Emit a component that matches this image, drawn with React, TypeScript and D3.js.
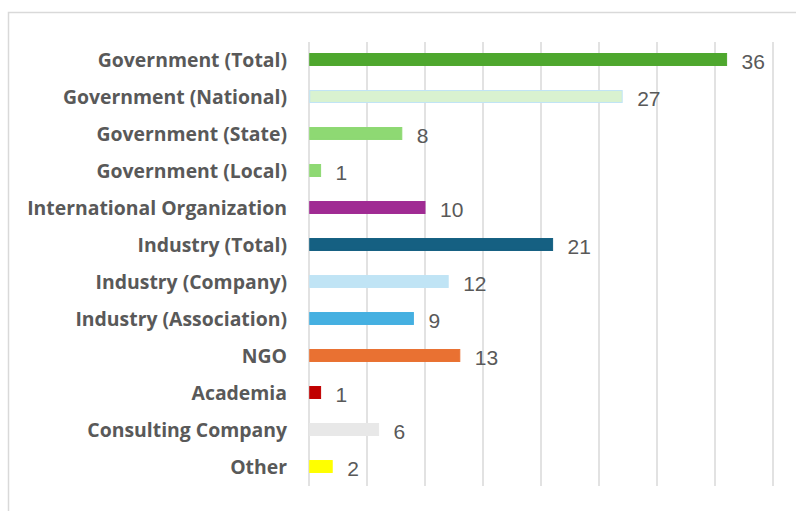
import React from "react";
import * as d3 from "d3";

const categories = [
  "Government (Total)",
  "Government (National)",
  "Government (State)",
  "Government (Local)",
  "International Organization",
  "Industry (Total)",
  "Industry (Company)",
  "Industry (Association)",
  "NGO",
  "Academia",
  "Consulting Company",
  "Other",
];
const values = [36, 27, 8, 1, 10, 21, 12, 9, 13, 1, 6, 2];
const fills = [
  "#4ea72e", "#d9f2d0", "#8ed973", "#8ed973", "#a02b93", "#156082",
  "#c0e4f5", "#45b0e1", "#e97132", "#c00000", "#e8e8e8", "#ffff00",
];
const strokes = [
  "#4ea72e", "#c0e4f5", "#8ed973", "#8ed973", "#a02b93", "#156082",
  "#c0e4f5", "#45b0e1", "#e97132", "#c00000", "#e8e8e8", "#ffff00",
];
const xTicks = [0, 5, 10, 15, 20, 25, 30, 35, 40];

export default function App() {
  const W = 796, H = 511;
  const x0 = 309, x1 = 773, yTop = 42, yBot = 486;
  const x = d3.scaleLinear().domain([0, 40]).range([x0, x1]);
  const y = d3.scaleBand<string>().domain(categories).range([yTop - 1, yBot - 1]).paddingInner(0.65).paddingOuter(0.325);
  const labelFont = "'Open Sans', sans-serif";
  return (
    <svg width={W} height={H} style={{ position: "absolute", left: 0, top: 0, background: "#fff" }}>
      <rect x={8.5} y={12.5} width={W + 20} height={H + 20} fill="#fff" stroke="#d9d9d9" strokeWidth={1.5} />
      {xTicks.map((t) => (
        <line key={t} x1={x(t)} x2={x(t)} y1={yTop} y2={yBot} stroke="#d9d9d9" strokeWidth={1.5} />
      ))}
      {categories.map((c, i) => {
        const by = y(c)!;
        const bh = y.bandwidth();
        const cy = by + bh / 2;
        return (
          <g key={c}>
            <rect x={x(0) + 0.75} y={by + 0.5} width={x(values[i]) - x(0) - 0.75} height={bh - 1}
              fill={fills[i]} stroke={strokes[i]} strokeWidth={1} />
            <text x={287} y={cy} textAnchor="end" dominantBaseline="central"
              fontFamily={labelFont} fontWeight="bold" fontSize={19.4} fill="#595959">{c}</text>
            <text x={x(values[i]) + 15} y={cy + 1.5} dominantBaseline="central"
              fontFamily="'Liberation Sans', Arial, sans-serif" fontSize={21} fill="#595959">{values[i]}</text>
          </g>
        );
      })}
    </svg>
  );
}
